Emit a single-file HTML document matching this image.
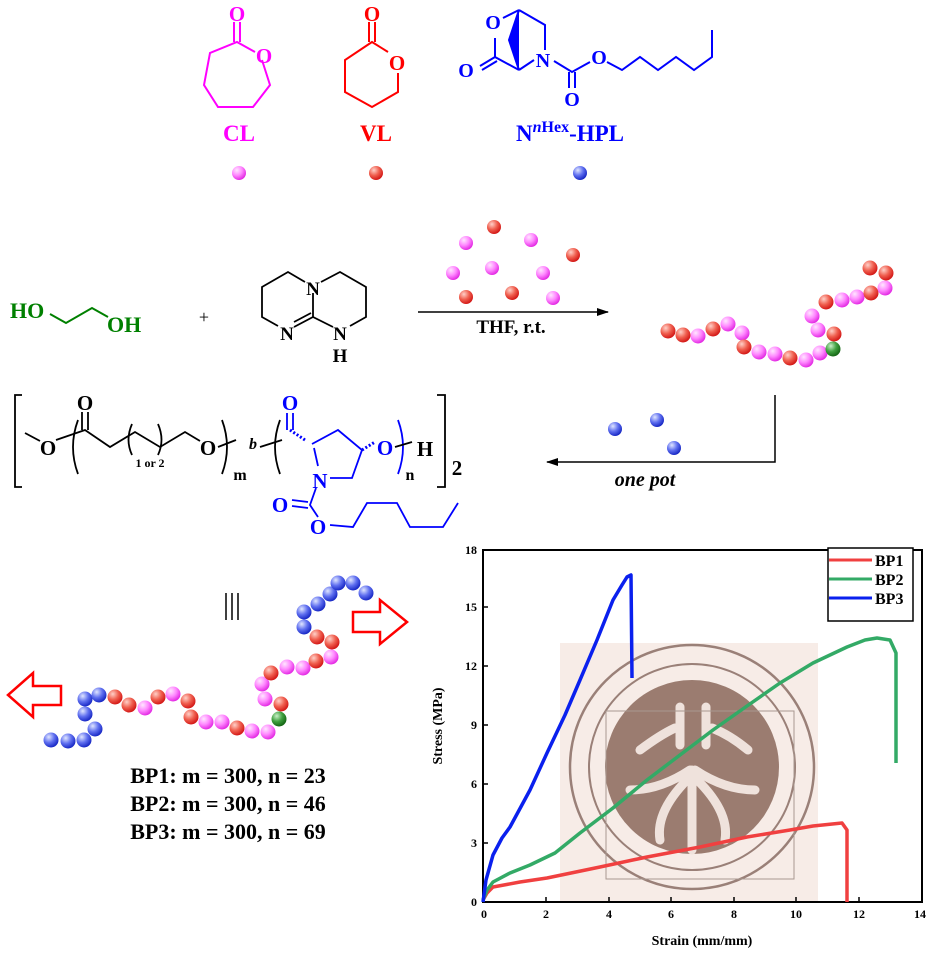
<!DOCTYPE html>
<html><head><meta charset="utf-8"><style>
html,body{margin:0;padding:0;background:#fff;}
svg{display:block;font-family:"Liberation Serif",serif;}
</style></head><body>
<svg width="933" height="954" viewBox="0 0 933 954" xmlns="http://www.w3.org/2000/svg">
<defs>
<radialGradient id="gp" cx="0.35" cy="0.3" r="0.75"><stop offset="0" stop-color="#ffe6ff"/><stop offset="0.5" stop-color="#ff88ff"/><stop offset="1" stop-color="#e020e0"/></radialGradient>
<radialGradient id="gr" cx="0.35" cy="0.3" r="0.75"><stop offset="0" stop-color="#ffd0c8"/><stop offset="0.5" stop-color="#f06050"/><stop offset="1" stop-color="#d01010"/></radialGradient>
<radialGradient id="gb" cx="0.35" cy="0.3" r="0.75"><stop offset="0" stop-color="#e0e6ff"/><stop offset="0.5" stop-color="#6070f0"/><stop offset="1" stop-color="#1020c0"/></radialGradient>
<radialGradient id="gg" cx="0.35" cy="0.3" r="0.75"><stop offset="0" stop-color="#c8f0c8"/><stop offset="0.5" stop-color="#40a040"/><stop offset="1" stop-color="#106010"/></radialGradient>
<marker id="ah" markerWidth="12" markerHeight="8" refX="11" refY="4" orient="auto" markerUnits="userSpaceOnUse"><path d="M0,0 L12,4 L0,8 Z" fill="#000"/></marker>
</defs>

<!-- CL -->
<g stroke="#ff00ff" stroke-width="2" fill="none">
<polyline points="262,60 270,85 253,107 218,107 204,85 210,53 237,42 255,52"/>
<line x1="234" y1="42" x2="234" y2="22"/><line x1="240" y1="42" x2="240" y2="22"/>
</g>
<g fill="#ff00ff" font-weight="bold" font-size="21" text-anchor="middle">
<text x="237" y="21">O</text><text x="264" y="63">O</text>
<text x="239" y="141" font-size="23">CL</text></g>

<!-- VL -->
<g stroke="#ff0000" stroke-width="2" fill="none">
<polyline points="398,73 398,92 372,107 345,92 345,60 372,42 388,52"/>
<line x1="369" y1="42" x2="369" y2="22"/><line x1="375" y1="42" x2="375" y2="22"/>
</g>
<g fill="#ff0000" font-weight="bold" font-size="21" text-anchor="middle">
<text x="372" y="21">O</text><text x="397" y="70">O</text>
<text x="376" y="141" font-size="23">VL</text></g>

<!-- HPL -->
<g stroke="#0000ff" stroke-width="2" fill="none">
<polyline points="495,38 495,57 519,70"/>
<line x1="480" y1="66" x2="495" y2="57"/><line x1="482" y1="70" x2="497" y2="61"/>
<polyline points="519,70 534,60"/>
<polyline points="519,10 545,25 545,50"/>
<polyline points="503,18 519,10"/>
<polyline points="519,10 509,40 519,70" fill="#0000ff"/>
<polyline points="554,61 572,72 590,62"/>
<line x1="569" y1="72" x2="569" y2="88"/><line x1="575" y1="72" x2="575" y2="88"/>
<polyline points="607,62 622,70 640,57 658,70 676,57 694,70 712,57 712,30"/>
</g>
<g fill="#0000ff" font-weight="bold" font-size="20" text-anchor="middle">
<text x="493" y="29">O</text><text x="466" y="77">O</text><text x="543" y="67">N</text>
<text x="599" y="64">O</text><text x="572" y="106">O</text>
<text x="570" y="141" font-size="23">N<tspan font-style="italic" font-size="16" dy="-9">n</tspan><tspan font-size="16">Hex</tspan><tspan dy="9">-HPL</tspan></text></g>

<!-- monomer beads -->
<circle cx="239" cy="173" r="7" fill="url(#gp)"/>
<circle cx="376" cy="173" r="7" fill="url(#gr)"/>
<circle cx="580" cy="173" r="7" fill="url(#gb)"/>

<!-- ethylene glycol -->
<polyline points="50,314 66,323 92,308 108,317" stroke="#008000" stroke-width="2" fill="none"/>
<g fill="#008000" font-weight="bold" font-size="22"><text x="10" y="318">HO</text><text x="107" y="332">OH</text></g>
<text x="204" y="323" font-size="18" text-anchor="middle">+</text>

<!-- TBD -->
<g stroke="#000" stroke-width="1.8" fill="none">
<polyline points="305,282 288,272 262,287 262,317 278,326"/>
<polyline points="294,327 313,317 333,327"/>
<line x1="294" y1="322" x2="311" y2="313"/>
<polyline points="321,282 340,272 366,287 366,317 350,326"/>
<line x1="313" y1="293" x2="313" y2="317"/>
</g>
<g font-size="19" font-weight="bold" text-anchor="middle"><text x="313" y="295">N</text><text x="287" y="340">N</text><text x="340" y="340">N</text><text x="340" y="362">H</text></g>

<!-- reaction arrow 1 -->
<line x1="418" y1="312" x2="608" y2="312" stroke="#000" stroke-width="1.5" marker-end="url(#ah)"/>
<text x="511" y="333" font-size="19" font-weight="bold" text-anchor="middle">THF, r.t.</text>
<g>
<circle cx="466" cy="243" r="7" fill="url(#gp)"/><circle cx="494" cy="227" r="7" fill="url(#gr)"/>
<circle cx="531" cy="240" r="7" fill="url(#gp)"/><circle cx="573" cy="255" r="7" fill="url(#gr)"/>
<circle cx="453" cy="273" r="7" fill="url(#gp)"/><circle cx="492" cy="268" r="7" fill="url(#gp)"/>
<circle cx="543" cy="273" r="7" fill="url(#gp)"/><circle cx="466" cy="297" r="7" fill="url(#gr)"/>
<circle cx="512" cy="293" r="7" fill="url(#gr)"/><circle cx="553" cy="298" r="7" fill="url(#gp)"/>
</g>

<!-- chain 1 -->
<g>
<circle cx="668" cy="331" r="7.5" fill="url(#gr)"/><circle cx="683" cy="335" r="7.5" fill="url(#gr)"/>
<circle cx="698" cy="336" r="7.5" fill="url(#gp)"/><circle cx="713" cy="329" r="7.5" fill="url(#gr)"/>
<circle cx="728" cy="324" r="7.5" fill="url(#gp)"/><circle cx="742" cy="333" r="7.5" fill="url(#gp)"/>
<circle cx="744" cy="347" r="7.5" fill="url(#gr)"/><circle cx="759" cy="352" r="7.5" fill="url(#gp)"/>
<circle cx="775" cy="354" r="7.5" fill="url(#gp)"/><circle cx="790" cy="358" r="7.5" fill="url(#gr)"/>
<circle cx="806" cy="360" r="7.5" fill="url(#gp)"/><circle cx="820" cy="353" r="7.5" fill="url(#gp)"/>
<circle cx="834" cy="334" r="7.5" fill="url(#gr)"/><circle cx="833" cy="349" r="7.5" fill="url(#gg)"/>
<circle cx="818" cy="330" r="7.5" fill="url(#gp)"/><circle cx="812" cy="316" r="7.5" fill="url(#gp)"/>
<circle cx="826" cy="302" r="7.5" fill="url(#gr)"/><circle cx="842" cy="300" r="7.5" fill="url(#gp)"/>
<circle cx="857" cy="297" r="7.5" fill="url(#gp)"/><circle cx="871" cy="293" r="7.5" fill="url(#gr)"/>
<circle cx="885" cy="288" r="7.5" fill="url(#gp)"/><circle cx="886" cy="273" r="7.5" fill="url(#gr)"/>
<circle cx="870" cy="268" r="7.5" fill="url(#gr)"/>
</g>

<!-- one pot arrow -->
<polyline points="775,395 775,462 547,462" stroke="#000" stroke-width="1.5" fill="none" marker-end="url(#ah)"/>
<text x="645" y="486" font-size="20" font-weight="bold" font-style="italic" text-anchor="middle">one pot</text>
<circle cx="615" cy="429" r="7" fill="url(#gb)"/><circle cx="657" cy="420" r="7" fill="url(#gb)"/><circle cx="674" cy="448" r="7" fill="url(#gb)"/>

<!-- polymer formula -->
<g stroke="#000" stroke-width="1.8" fill="none">
<polyline points="22,395 15,395 15,487 22,487"/>
<polyline points="437,395 445,395 445,487 437,487"/>
<line x1="25" y1="433" x2="40" y2="441"/>
<path d="M78,420 Q68,447 78,474"/>
<polyline points="56,440 85,430 110,447 135,432 160,447 185,432 200,441"/>
<line x1="82" y1="412" x2="82" y2="430"/><line x1="88" y1="412" x2="88" y2="430"/>
<path d="M132,424 Q125,440 132,455"/><path d="M158,424 Q165,440 158,455"/>
<path d="M222,420 Q232,447 222,474"/>
<line x1="218" y1="447" x2="236" y2="440"/>
<line x1="260" y1="447" x2="282" y2="440"/>
<path d="M280,420 Q270,447 280,474"/>
</g>
<g fill="#000" font-weight="bold" font-size="21" text-anchor="middle">
<text x="48" y="455">O</text><text x="85" y="410">O</text><text x="208" y="455">O</text>
<text x="240" y="480" font-size="16">m</text><text x="425" y="456">H</text><text x="410" y="480" font-size="16">n</text>
<text x="457" y="475">2</text><text x="150" y="467" font-size="12">1 or 2</text>
<text x="253" y="449" font-style="italic" font-size="16">b</text></g>
<g stroke="#0000ff" stroke-width="1.8" fill="none">
<polyline points="290,430 305,440" stroke-dasharray="2,2" stroke-width="3"/>
<line x1="287" y1="413" x2="287" y2="430"/><line x1="293" y1="413" x2="293" y2="430"/>
<polyline points="312,444 338,430 362,450 352,478 330,478"/>
<line x1="314" y1="448" x2="318" y2="466"/>
<line x1="362" y1="450" x2="375" y2="442" stroke-dasharray="2,2" stroke-width="3"/>
<path d="M398,420 Q408,447 398,474"/>
<line x1="395" y1="447" x2="412" y2="442" stroke="#000"/>
<polyline points="316,488 310,505 318,517"/>
<line x1="292" y1="500" x2="308" y2="502"/><line x1="292" y1="506" x2="308" y2="508"/>
<polyline points="330,525 353,527 367,503 397,503 410,527 443,527 458,503"/>
</g>
<g fill="#0000ff" font-weight="bold" font-size="21" text-anchor="middle">
<text x="290" y="410">O</text><text x="385" y="455">O</text><text x="320" y="488">N</text>
<text x="280" y="512">O</text><text x="318" y="534">O</text></g>

<!-- equivalence -->
<g stroke="#000" stroke-width="1.5"><line x1="226" y1="593" x2="226" y2="620"/><line x1="232" y1="593" x2="232" y2="620"/><line x1="238" y1="593" x2="238" y2="620"/></g>

<!-- arrows -->
<path d="M61,686 L33,686 L33,673 L8,695 L33,717 L33,705 L61,705 Z" fill="#fff" stroke="#ff0000" stroke-width="2.5"/>
<path d="M353,612 L380,612 L380,600 L407,622 L380,644 L380,632 L353,632 Z" fill="#fff" stroke="#ff0000" stroke-width="2.5"/>

<!-- chain 2 -->
<g>
<circle cx="51" cy="740" r="7.5" fill="url(#gb)"/><circle cx="68" cy="741" r="7.5" fill="url(#gb)"/>
<circle cx="84" cy="740" r="7.5" fill="url(#gb)"/><circle cx="95" cy="729" r="7.5" fill="url(#gb)"/>
<circle cx="85" cy="714" r="7.5" fill="url(#gb)"/><circle cx="85" cy="699" r="7.5" fill="url(#gb)"/>
<circle cx="99" cy="695" r="7.5" fill="url(#gb)"/>
<circle cx="115" cy="697" r="7.5" fill="url(#gr)"/><circle cx="129" cy="705" r="7.5" fill="url(#gr)"/>
<circle cx="145" cy="708" r="7.5" fill="url(#gp)"/><circle cx="158" cy="697" r="7.5" fill="url(#gr)"/>
<circle cx="173" cy="694" r="7.5" fill="url(#gp)"/><circle cx="188" cy="701" r="7.5" fill="url(#gr)"/>
<circle cx="191" cy="717" r="7.5" fill="url(#gr)"/><circle cx="206" cy="722" r="7.5" fill="url(#gp)"/>
<circle cx="222" cy="722" r="7.5" fill="url(#gp)"/><circle cx="237" cy="728" r="7.5" fill="url(#gr)"/>
<circle cx="252" cy="731" r="7.5" fill="url(#gp)"/><circle cx="268" cy="732" r="7.5" fill="url(#gp)"/>
<circle cx="279" cy="719" r="7.5" fill="url(#gg)"/><circle cx="281" cy="704" r="7.5" fill="url(#gr)"/>
<circle cx="265" cy="699" r="7.5" fill="url(#gp)"/><circle cx="262" cy="684" r="7.5" fill="url(#gp)"/>
<circle cx="271" cy="673" r="7.5" fill="url(#gr)"/><circle cx="287" cy="667" r="7.5" fill="url(#gp)"/>
<circle cx="303" cy="668" r="7.5" fill="url(#gp)"/><circle cx="316" cy="661" r="7.5" fill="url(#gr)"/>
<circle cx="331" cy="657" r="7.5" fill="url(#gp)"/><circle cx="332" cy="642" r="7.5" fill="url(#gr)"/>
<circle cx="317" cy="637" r="7.5" fill="url(#gr)"/><circle cx="304" cy="627" r="7.5" fill="url(#gb)"/>
<circle cx="304" cy="612" r="7.5" fill="url(#gb)"/><circle cx="318" cy="604" r="7.5" fill="url(#gb)"/>
<circle cx="330" cy="594" r="7.5" fill="url(#gb)"/><circle cx="338" cy="583" r="7.5" fill="url(#gb)"/>
<circle cx="353" cy="583" r="7.5" fill="url(#gb)"/><circle cx="366" cy="593" r="7.5" fill="url(#gb)"/>
</g>

<g font-size="22" font-weight="bold" text-anchor="middle" fill="#000">
<text x="228" y="783">BP1: m = 300, n = 23</text>
<text x="228" y="811">BP2: m = 300, n = 46</text>
<text x="228" y="839">BP3: m = 300, n = 69</text></g>

<!-- chart background seal -->
<rect x="560" y="643" width="258" height="259" fill="#f7ece7"/>
<circle cx="692" cy="767" r="122" fill="none" stroke="#9a8078" stroke-width="2.5"/>
<circle cx="692" cy="767" r="103" fill="none" stroke="#9a8078" stroke-width="2"/>
<circle cx="692" cy="767" r="87" fill="#9b7c70"/>
<g stroke="#efe2dc" stroke-width="9" stroke-linecap="round" fill="none">
<line x1="680" y1="707" x2="680" y2="745"/><line x1="706" y1="707" x2="706" y2="745"/>
<path d="M640,750 Q660,735 675,728"/><path d="M712,728 Q730,735 748,750"/>
<path d="M690,770 Q660,790 630,790"/><path d="M695,770 Q725,790 755,790"/>
<path d="M692,775 Q655,810 660,840"/><path d="M692,775 Q730,810 725,840"/>
<line x1="692" y1="770" x2="692" y2="850"/>
</g>
<rect x="606" y="711" width="188" height="168" fill="none" stroke="#a89890" stroke-width="1"/>

<!-- chart axes -->
<rect x="483" y="550" width="439" height="352" fill="none" stroke="#000" stroke-width="2"/>
<g stroke="#000" stroke-width="1.5">
<line x1="483" y1="607" x2="488" y2="607"/><line x1="483" y1="666" x2="488" y2="666"/><line x1="483" y1="725" x2="488" y2="725"/>
<line x1="483" y1="784" x2="488" y2="784"/><line x1="483" y1="843" x2="488" y2="843"/>
<line x1="546" y1="902" x2="546" y2="897"/><line x1="609" y1="902" x2="609" y2="897"/><line x1="671" y1="902" x2="671" y2="897"/>
<line x1="734" y1="902" x2="734" y2="897"/><line x1="796" y1="902" x2="796" y2="897"/><line x1="859" y1="902" x2="859" y2="897"/>
</g>
<g font-size="12" font-weight="bold" text-anchor="end">
<text x="477" y="906">0</text><text x="477" y="847">3</text><text x="477" y="788">6</text><text x="477" y="729">9</text>
<text x="477" y="670">12</text><text x="477" y="611">15</text><text x="477" y="554">18</text></g>
<g font-size="12" font-weight="bold" text-anchor="middle">
<text x="484" y="918">0</text><text x="546" y="918">2</text><text x="609" y="918">4</text><text x="671" y="918">6</text>
<text x="734" y="918">8</text><text x="796" y="918">10</text><text x="859" y="918">12</text><text x="920" y="918">14</text></g>
<text x="702" y="945" font-size="14" font-weight="bold" text-anchor="middle">Strain (mm/mm)</text>
<text transform="translate(442,726) rotate(-90)" font-size="14" font-weight="bold" text-anchor="middle">Stress (MPa)</text>

<!-- curves -->
<g fill="none" stroke-width="3.5" stroke-linejoin="round">
<polyline stroke="#f04040" points="483,900 487,893 493,887 520,882 547,878 600,867 647,857 700,847 747,837 790,830 813,826 842,823 847,830 847,902"/>
<polyline stroke="#33aa66" points="483,900 487,890 493,882 510,873 530,865 555,853 580,833 613,808 647,780 680,755 713,730 747,706 780,683 813,663 847,647 865,640 877,638 890,640 896,653 896,763"/>
<polyline stroke="#0a20ee" points="483,902 486,880 493,855 502,838 510,827 530,790 547,753 565,715 580,680 597,640 613,600 622,585 627,577 631,575 632,678"/>
</g>
<!-- legend -->
<rect x="828" y="548" width="85" height="73" fill="#fff" stroke="#000" stroke-width="1.5"/>
<g stroke-width="3"><line x1="829" y1="560" x2="872" y2="560" stroke="#f04040"/><line x1="829" y1="579" x2="872" y2="579" stroke="#33aa66"/><line x1="829" y1="598" x2="872" y2="598" stroke="#0a20ee"/></g>
<g font-size="16" font-weight="bold"><text x="875" y="566">BP1</text><text x="875" y="585">BP2</text><text x="875" y="604">BP3</text></g>
</svg>
</body></html>
